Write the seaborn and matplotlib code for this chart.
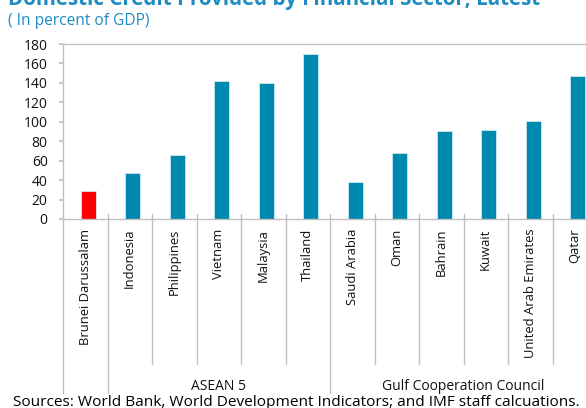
import matplotlib
matplotlib.use("Agg")
import matplotlib.pyplot as plt
import seaborn as sns
import pandas as pd

# Domestic credit provided by the financial sector, latest year (% of GDP)
countries = ["Brunei Darussalam", "Indonesia", "Philippines", "Vietnam", "Malaysia",
             "Thailand", "Saudi Arabia", "Oman", "Bahrain", "Kuwait",
             "United Arab Emirates", "Qatar"]
credit = [28.5, 47.0, 66.0, 141.5, 140.3, 169.5, 38.5, 67.5, 90.5, 92.0, 100.5, 147.5]
# small secondary bar shown only for Brunei
brunei_other = [1.5]
groups = ["", "ASEAN 5", "ASEAN 5", "ASEAN 5", "ASEAN 5", "ASEAN 5",
          "Gulf Cooperation Council", "Gulf Cooperation Council", "Gulf Cooperation Council",
          "Gulf Cooperation Council", "Gulf Cooperation Council", "Gulf Cooperation Council"]
yticks = [0, 20, 40, 60, 80, 100, 120, 140, 160, 180]

TEAL = "#0089AE"
RED = "#FF0000"
DARK = "#1D5A6E"
GRID = "#BFBFBF"
TITLE_C = "#1E8CC2"

sns.set_theme(style="white")
plt.rcParams["font.family"] = ["Open Sans", "DejaVu Sans"]

df = pd.DataFrame({"country": countries, "credit": credit})
palette = {c: (RED if c == "Brunei Darussalam" else TEAL) for c in countries}

fig = plt.figure(figsize=(5.86, 4.08), dpi=100)
ax = fig.add_axes([63 / 586, (408 - 219) / 408, 534 / 586, 175 / 408])

bw = 0.34
shift = 0.067
sns.barplot(data=df, x="country", y="credit", hue="country", palette=palette,
            width=bw, legend=False, ax=ax, edgecolor="#CFE9F2", linewidth=0.6,
            saturation=1)
for p in ax.patches:
    p.set_x(p.get_x() + shift)

# secondary Brunei bar, to the left of the main one
w2 = 0.13
ax.bar([shift - bw / 2 - w2 / 2 - 0.015], brunei_other, width=w2, color=DARK, zorder=3)

ax.set_xlim(-0.5, len(countries) - 0.5)
ax.set_ylim(0, 180)
ax.set_yticks(yticks)
ax.set_yticklabels([str(v) for v in yticks], fontsize=10, color="#111111")
ax.tick_params(axis="y", length=3, color=GRID, pad=8, left=True)
ax.tick_params(axis="x", length=0, pad=7, labelsize=9.4, labelcolor="#111111")
ax.set_xticks(range(len(countries)))
ax.set_xticklabels(countries, rotation=90, va="top", ha="center")
ax.set_xlabel("")
ax.set_ylabel("")
for s in ["top", "left", "bottom", "right"]:
    ax.spines[s].set_color(GRID)
    ax.spines[s].set_linewidth(1.0)

# category / group separators below the axis
tr = ax.get_xaxis_transform()
y_top = 5 / 175
y_short = -145 / 175
y_long = -174 / 175
ax.plot([-0.5, -0.5], [0, y_long], transform=tr, color=GRID, lw=1.0, clip_on=False)
group_bounds = [i + 0.5 for i in range(len(countries) - 1) if groups[i] != groups[i + 1]]
for i in range(len(countries) - 1):
    xb = i + 0.5
    y_end = y_long if xb in group_bounds else y_short
    ax.plot([xb, xb], [y_top, y_end], transform=tr, color=GRID, lw=1.0, clip_on=False)

# group labels
seen = []
for g in groups:
    if g and g not in seen:
        seen.append(g)
for g in seen:
    idx = [i for i, gg in enumerate(groups) if gg == g]
    xc = (idx[0] + idx[-1]) / 2
    ax.text(xc, -167 / 175, g, transform=tr, ha="center", va="center",
            fontsize=10, color="#111111")

fig.text(8 / 586, 1 - 5 / 408, "Domestic Credit Provided by Financial Sector, Latest",
         ha="left", va="baseline", fontsize=14.8, fontweight="bold", color=TITLE_C)
fig.text(8 / 586, 1 - 25 / 408, "( In percent of GDP)", ha="left", va="baseline",
         fontsize=11.2, color=TITLE_C)
fig.text(13 / 586, 1 - 406 / 408,
         "Sources: World Bank, World Development Indicators; and IMF staff calcuations.",
         ha="left", va="baseline", fontsize=11.1, color="#000000")

fig.savefig("out.png", dpi=100)
